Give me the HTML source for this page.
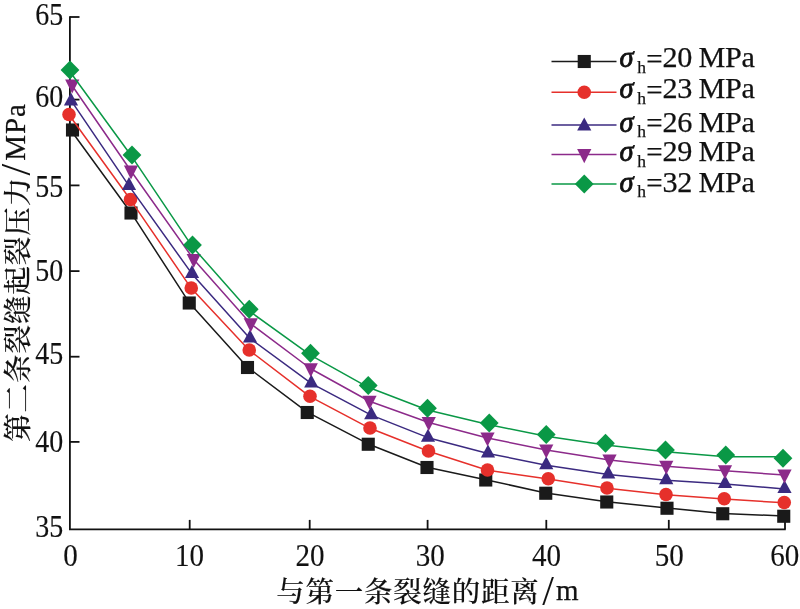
<!DOCTYPE html>
<html lang="zh">
<head>
<meta charset="utf-8">
<title>第二条裂缝起裂压力</title>
<style>
html,body{margin:0;padding:0;background:#fff;}
body{width:800px;height:609px;overflow:hidden;}
svg{display:block;}
text{font-family:"Liberation Serif","Noto Serif CJK SC",serif;fill:#111;stroke:#111;stroke-width:0.25px;}
.tk{font-size:30.9px;stroke-width:0.15px;}
.cj{font-size:28.5px;font-weight:500;stroke:#111;stroke-width:0.12px;}
.la{font-size:29px;}
.sl{font-size:42px;stroke:none;}
.lg{font-size:29px;}
.sg{font-style:italic;font-size:28.5px;stroke-width:0.8px;}
.sb{font-size:17.5px;}
.ax{stroke:#111;stroke-width:1.8;fill:none;}
</style>
</head>
<body>
<svg width="800" height="609" viewBox="0 0 800 609">
<rect width="800" height="609" fill="#ffffff"/>

<path class="ax" d="M69.9 16.25 V529.3 H785.75"/>
<path class="ax" d="M69.9 17 H79.5"/>
<text class="tk" transform="translate(63.3 25.0) scale(0.905 1)" text-anchor="end">65</text>
<path class="ax" d="M69.9 99.6 H79.5"/>
<text class="tk" transform="translate(63.3 107.3) scale(0.905 1)" text-anchor="end">60</text>
<path class="ax" d="M69.9 185.4 H79.5"/>
<text class="tk" transform="translate(63.3 196.9) scale(0.905 1)" text-anchor="end">55</text>
<path class="ax" d="M69.9 271.1 H79.5"/>
<text class="tk" transform="translate(63.3 280.7) scale(0.905 1)" text-anchor="end">50</text>
<path class="ax" d="M69.9 356.7 H79.5"/>
<text class="tk" transform="translate(63.3 363.9) scale(0.905 1)" text-anchor="end">45</text>
<path class="ax" d="M69.9 441.9 H79.5"/>
<text class="tk" transform="translate(63.3 452.1) scale(0.905 1)" text-anchor="end">40</text>
<text class="tk" transform="translate(63.3 536.9) scale(0.905 1)" text-anchor="end">35</text>
<text class="tk" transform="translate(70.5 565.8) scale(0.94 1)" text-anchor="middle">0</text>
<path class="ax" d="M189.7 529.3 V519.9"/>
<text class="tk" transform="translate(189.5 565.8) scale(0.94 1)" text-anchor="middle">10</text>
<path class="ax" d="M309.7 529.3 V519.9"/>
<text class="tk" transform="translate(310 565.8) scale(0.94 1)" text-anchor="middle">20</text>
<path class="ax" d="M427.6 529.3 V519.9"/>
<text class="tk" transform="translate(430.2 565.8) scale(0.94 1)" text-anchor="middle">30</text>
<path class="ax" d="M546.3 529.3 V519.9"/>
<text class="tk" transform="translate(546.5 565.8) scale(0.94 1)" text-anchor="middle">40</text>
<path class="ax" d="M668.8 529.3 V519.9"/>
<text class="tk" transform="translate(669.2 565.8) scale(0.94 1)" text-anchor="middle">50</text>
<path class="ax" d="M785 529.3 V519.9"/>
<text class="tk" transform="translate(784.8 565.8) scale(0.94 1)" text-anchor="middle">60</text>
<path d="M70.50 129.70 L131.00 212.70 L189.25 302.70 L247.50 367.20 L307.25 412.20 L368.25 443.95 L427.00 467.20 L485.75 479.70 L545.75 492.95 L606.75 501.70 L667.00 507.95 L722.75 513.45 L783.75 515.95" stroke="#1a1a1a" stroke-width="1.5" fill="none" stroke-linejoin="round"/>
<rect x="65.95" y="123.45" width="13.10" height="13.10" fill="#1a1a1a"/>
<rect x="124.45" y="206.45" width="13.10" height="13.10" fill="#1a1a1a"/>
<rect x="182.70" y="296.45" width="13.10" height="13.10" fill="#1a1a1a"/>
<rect x="240.95" y="360.95" width="13.10" height="13.10" fill="#1a1a1a"/>
<rect x="300.70" y="405.95" width="13.10" height="13.10" fill="#1a1a1a"/>
<rect x="361.70" y="437.70" width="13.10" height="13.10" fill="#1a1a1a"/>
<rect x="420.45" y="460.95" width="13.10" height="13.10" fill="#1a1a1a"/>
<rect x="479.20" y="473.45" width="13.10" height="13.10" fill="#1a1a1a"/>
<rect x="539.20" y="486.70" width="13.10" height="13.10" fill="#1a1a1a"/>
<rect x="600.20" y="495.45" width="13.10" height="13.10" fill="#1a1a1a"/>
<rect x="660.45" y="501.70" width="13.10" height="13.10" fill="#1a1a1a"/>
<rect x="716.20" y="507.20" width="13.10" height="13.10" fill="#1a1a1a"/>
<rect x="777.20" y="509.70" width="13.10" height="13.10" fill="#1a1a1a"/>
<path d="M69.00 114.80 L130.50 199.80 L191.25 288.30 L249.25 350.30 L310.00 396.55 L370.00 428.30 L428.50 451.30 L487.50 470.30 L548.25 479.05 L607.00 488.30 L666.00 494.80 L724.25 499.05 L784.25 502.80" stroke="#e6302b" stroke-width="1.5" fill="none" stroke-linejoin="round"/>
<circle cx="69.00" cy="114.50" r="6.8" fill="#e6302b"/>
<circle cx="130.50" cy="199.50" r="6.8" fill="#e6302b"/>
<circle cx="191.25" cy="288.00" r="6.8" fill="#e6302b"/>
<circle cx="249.25" cy="350.00" r="6.8" fill="#e6302b"/>
<circle cx="310.00" cy="396.25" r="6.8" fill="#e6302b"/>
<circle cx="370.00" cy="428.00" r="6.8" fill="#e6302b"/>
<circle cx="428.50" cy="451.00" r="6.8" fill="#e6302b"/>
<circle cx="487.50" cy="470.00" r="6.8" fill="#e6302b"/>
<circle cx="548.25" cy="478.75" r="6.8" fill="#e6302b"/>
<circle cx="607.00" cy="488.00" r="6.8" fill="#e6302b"/>
<circle cx="666.00" cy="494.50" r="6.8" fill="#e6302b"/>
<circle cx="724.25" cy="498.75" r="6.8" fill="#e6302b"/>
<circle cx="784.25" cy="502.50" r="6.8" fill="#e6302b"/>
<path d="M71.00 100.40 L129.00 185.90 L192.00 273.90 L250.00 338.40 L311.25 383.40 L371.25 415.15 L428.00 437.65 L488.00 453.40 L546.25 465.15 L608.25 474.40 L666.25 480.15 L725.00 483.90 L784.50 488.90" stroke="#3b2a80" stroke-width="1.5" fill="none" stroke-linejoin="round"/>
<polygon points="63.90,105.60 78.10,105.60 71.00,92.40" fill="#3b2a80"/>
<polygon points="121.90,190.10 136.10,190.10 129.00,176.90" fill="#3b2a80"/>
<polygon points="184.90,278.10 199.10,278.10 192.00,264.90" fill="#3b2a80"/>
<polygon points="242.90,342.60 257.10,342.60 250.00,329.40" fill="#3b2a80"/>
<polygon points="304.15,387.60 318.35,387.60 311.25,374.40" fill="#3b2a80"/>
<polygon points="364.15,419.35 378.35,419.35 371.25,406.15" fill="#3b2a80"/>
<polygon points="420.90,441.85 435.10,441.85 428.00,428.65" fill="#3b2a80"/>
<polygon points="480.90,457.60 495.10,457.60 488.00,444.40" fill="#3b2a80"/>
<polygon points="539.15,469.35 553.35,469.35 546.25,456.15" fill="#3b2a80"/>
<polygon points="601.15,478.60 615.35,478.60 608.25,465.40" fill="#3b2a80"/>
<polygon points="659.15,484.35 673.35,484.35 666.25,471.15" fill="#3b2a80"/>
<polygon points="717.90,488.10 732.10,488.10 725.00,474.90" fill="#3b2a80"/>
<polygon points="777.40,493.10 791.60,493.10 784.50,479.90" fill="#3b2a80"/>
<path d="M71.00 84.00 L131.00 171.00 L193.75 259.50 L250.75 323.75 L310.75 368.75 L369.50 401.25 L428.75 422.50 L487.50 438.00 L546.25 450.00 L609.50 460.00 L666.25 466.25 L725.00 470.75 L784.50 475.00" stroke="#8c2a8a" stroke-width="1.5" fill="none" stroke-linejoin="round"/>
<polygon points="65.10,79.50 79.30,79.50 72.20,93.60" fill="#8c2a8a"/>
<polygon points="123.90,165.50 138.10,165.50 131.00,179.60" fill="#8c2a8a"/>
<polygon points="186.65,254.00 200.85,254.00 193.75,268.10" fill="#8c2a8a"/>
<polygon points="243.65,318.25 257.85,318.25 250.75,332.35" fill="#8c2a8a"/>
<polygon points="303.65,363.25 317.85,363.25 310.75,377.35" fill="#8c2a8a"/>
<polygon points="362.40,395.75 376.60,395.75 369.50,409.85" fill="#8c2a8a"/>
<polygon points="421.65,417.00 435.85,417.00 428.75,431.10" fill="#8c2a8a"/>
<polygon points="480.40,432.50 494.60,432.50 487.50,446.60" fill="#8c2a8a"/>
<polygon points="539.15,444.50 553.35,444.50 546.25,458.60" fill="#8c2a8a"/>
<polygon points="602.40,454.50 616.60,454.50 609.50,468.60" fill="#8c2a8a"/>
<polygon points="659.15,460.75 673.35,460.75 666.25,474.85" fill="#8c2a8a"/>
<polygon points="717.90,465.25 732.10,465.25 725.00,479.35" fill="#8c2a8a"/>
<polygon points="777.40,469.50 791.60,469.50 784.50,483.60" fill="#8c2a8a"/>
<path d="M70.00 71.80 L132.00 156.80 L192.50 246.80 L249.25 311.05 L310.50 355.05 L368.25 387.30 L427.50 410.05 L489.25 424.80 L546.25 436.30 L605.50 445.05 L665.50 451.80 L725.75 456.80 L783.00 456.65" stroke="#0a9846" stroke-width="1.5" fill="none" stroke-linejoin="round"/>
<polygon points="60.60,70.00 70.00,60.60 79.40,70.00 70.00,79.40" fill="#0a9846"/>
<polygon points="122.60,155.00 132.00,145.60 141.40,155.00 132.00,164.40" fill="#0a9846"/>
<polygon points="183.10,245.00 192.50,235.60 201.90,245.00 192.50,254.40" fill="#0a9846"/>
<polygon points="239.85,309.25 249.25,299.85 258.65,309.25 249.25,318.65" fill="#0a9846"/>
<polygon points="301.10,353.25 310.50,343.85 319.90,353.25 310.50,362.65" fill="#0a9846"/>
<polygon points="358.85,385.50 368.25,376.10 377.65,385.50 368.25,394.90" fill="#0a9846"/>
<polygon points="418.10,408.25 427.50,398.85 436.90,408.25 427.50,417.65" fill="#0a9846"/>
<polygon points="479.85,423.00 489.25,413.60 498.65,423.00 489.25,432.40" fill="#0a9846"/>
<polygon points="536.85,434.50 546.25,425.10 555.65,434.50 546.25,443.90" fill="#0a9846"/>
<polygon points="596.10,443.25 605.50,433.85 614.90,443.25 605.50,452.65" fill="#0a9846"/>
<polygon points="656.10,450.00 665.50,440.60 674.90,450.00 665.50,459.40" fill="#0a9846"/>
<polygon points="716.35,455.00 725.75,445.60 735.15,455.00 725.75,464.40" fill="#0a9846"/>
<polygon points="773.60,458.25 783.00,448.85 792.40,458.25 783.00,467.65" fill="#0a9846"/>
<path d="M551.5 61.5 H616.5" stroke="#1a1a1a" stroke-width="1.5"/>
<rect x="577.70" y="54.95" width="13.10" height="13.10" fill="#1a1a1a"/>
<text class="lg" y="67.3"><tspan class="sg" x="619.6">σ</tspan><tspan class="sb" x="637.3" dy="5.7">h</tspan><tspan x="646.2" dy="-4.4" letter-spacing="0.6">=</tspan><tspan x="662.6" dy="-1.3" font-size="30.2" letter-spacing="-0.5">20 </tspan><tspan x="698.6" font-size="30.2" letter-spacing="-0.4">MPa</tspan></text>
<path d="M551.5 92.2 H616.5" stroke="#e6302b" stroke-width="1.5"/>
<circle cx="584.25" cy="92.20" r="6.8" fill="#e6302b"/>
<text class="lg" y="98.4"><tspan class="sg" x="619.6">σ</tspan><tspan class="sb" x="637.3" dy="5.7">h</tspan><tspan x="646.2" dy="-4.4" letter-spacing="0.6">=</tspan><tspan x="662.6" dy="-1.3" font-size="30.2" letter-spacing="-0.5">23 </tspan><tspan x="698.6" font-size="30.2" letter-spacing="-0.4">MPa</tspan></text>
<path d="M551.5 125 H616.5" stroke="#3b2a80" stroke-width="1.5"/>
<polygon points="577.15,130.60 591.35,130.60 584.25,117.40" fill="#3b2a80"/>
<text class="lg" y="131.5"><tspan class="sg" x="619.6">σ</tspan><tspan class="sb" x="637.3" dy="5.7">h</tspan><tspan x="646.2" dy="-4.4" letter-spacing="0.6">=</tspan><tspan x="662.6" dy="-1.3" font-size="30.2" letter-spacing="-0.5">26 </tspan><tspan x="698.6" font-size="30.2" letter-spacing="-0.4">MPa</tspan></text>
<path d="M551.5 154.6 H616.5" stroke="#8c2a8a" stroke-width="1.5"/>
<polygon points="577.15,149.10 591.35,149.10 584.25,163.20" fill="#8c2a8a"/>
<text class="lg" y="160.9"><tspan class="sg" x="619.6">σ</tspan><tspan class="sb" x="637.3" dy="5.7">h</tspan><tspan x="646.2" dy="-4.4" letter-spacing="0.6">=</tspan><tspan x="662.6" dy="-1.3" font-size="30.2" letter-spacing="-0.5">29 </tspan><tspan x="698.6" font-size="30.2" letter-spacing="-0.4">MPa</tspan></text>
<path d="M551.5 184 H616.5" stroke="#0a9846" stroke-width="1.5"/>
<polygon points="574.85,184.00 584.25,174.60 593.65,184.00 584.25,193.40" fill="#0a9846"/>
<text class="lg" y="191.5"><tspan class="sg" x="619.6">σ</tspan><tspan class="sb" x="637.3" dy="5.7">h</tspan><tspan x="646.2" dy="-4.4" letter-spacing="0.6">=</tspan><tspan x="662.6" dy="-1.3" font-size="30.2" letter-spacing="-0.5">32 </tspan><tspan x="698.6" font-size="30.2" letter-spacing="-0.4">MPa</tspan></text>
<text><tspan class="cj" letter-spacing="0.75" x="276.2" y="601.8">与第一条裂缝的距离</tspan><tspan class="sl" x="542.2" y="605">/</tspan><tspan class="la" x="556" y="600">m</tspan></text>
<text transform="rotate(-90)"><tspan class="cj" letter-spacing="0.97" x="-442" y="27.8">第二条裂缝起裂压力</tspan><tspan class="sl" x="-175.6" y="29.6">/</tspan><tspan class="la" x="-160.8" y="25.2" font-size="30.4" letter-spacing="0.9">MPa</tspan></text>
</svg>
</body>
</html>
